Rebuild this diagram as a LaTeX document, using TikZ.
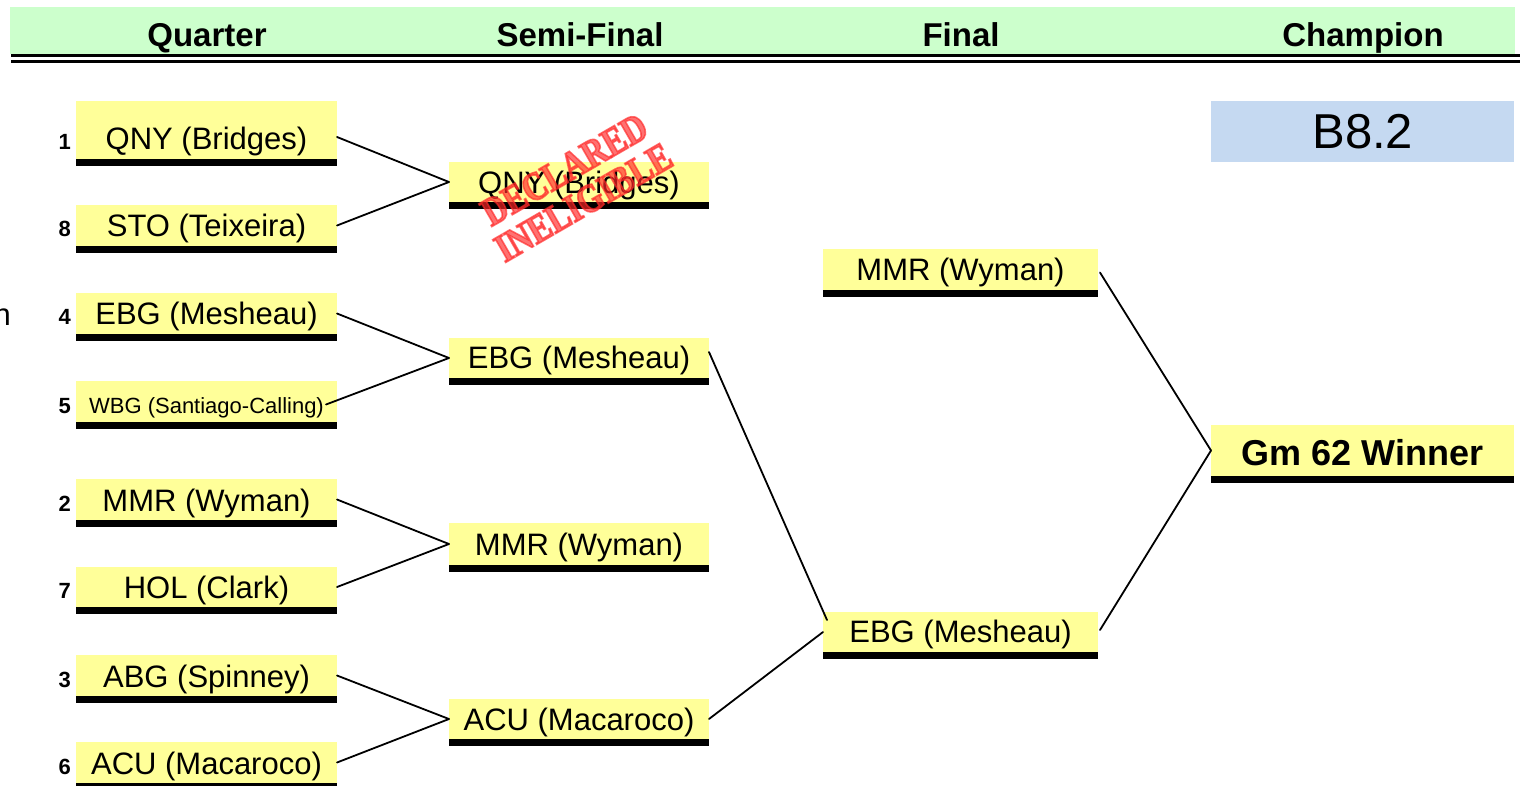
\documentclass[tikz,border=0pt]{standalone}
\usepackage{fontspec}
\setmainfont{Liberation Sans}
\newfontfamily\stampfont{Liberation Serif}[FakeBold=4,FakeStretch=0.82]
\usetikzlibrary{calc}
\definecolor{hdrgreen}{RGB}{204,255,204}
\definecolor{boxyellow}{RGB}{255,255,153}
\definecolor{boxblue}{RGB}{197,217,241}
\definecolor{stampred}{RGB}{255,40,40}
\newcommand\fsz[1]{\fontsize{#1}{#1}\selectfont}
% #1 name, #2 x1, #3 x2, #4 ytop, #5 ybar, #6 baseline, #7 font, #8 text
\newcommand\teambox[8]{%
  \node[ybox, minimum width={(#3-#2)*1pt}, minimum height={(#5-#4)*1pt}, anchor=north west] (#1) at (#2,#4) {};
  \fill[black] (#2,#5) rectangle (#3,#5+6.5);
  \node[tlabel, font=#7, anchor=base] (#1t) at ({(#2+#3)/2},#6) {#8};
}
\newcommand\seedno[3]{%
  \node[seed, anchor=base east] (#1) at (71,#2) {#3};
}
\begin{document}
\begin{tikzpicture}[x=1pt,y=-1pt,
  ybox/.style={fill=boxyellow, draw=none, inner sep=0pt, outer sep=0pt},
  tlabel/.style={inner sep=0pt, text=black},
  seed/.style={inner sep=0pt, font=\bfseries\fsz{22}},
  hdr/.style={inner sep=0pt, font=\bfseries\fsz{33}, anchor=base},
  conn/.style={line width=1.8pt, line cap=round},
  stamp/.style={inner sep=0pt, font=\stampfont\bfseries\fontsize{40}{38}\selectfont,
    text=stampred, text opacity=0.66, rotate=30, align=center}]
\useasboundingbox (0,0) rectangle (1520,785);

% header
\fill[hdrgreen] (10,7) rectangle (1515,54);
\fill[black] (11,54.3) rectangle (1520,57.3);
\fill[black] (11,60.3) rectangle (1520,63.3);
\node[hdr] (hq) at (207,46) {Quarter};
\node[hdr] (hs) at (580,46) {Semi-Final};
\node[hdr] (hf) at (961,46) {Final};
\node[hdr] (hc) at (1363,46) {Champion};

% partial text at left edge
\node[tlabel, font=\fsz{31}, anchor=base east] (cut) at (11,325) {n};

% quarter
\teambox{q1}{76}{337}{101}{159}{149}{\fsz{31}}{QNY (Bridges)}
\teambox{q8}{76}{337}{205}{246}{236}{\fsz{31}}{STO (Teixeira)}
\teambox{q4}{76}{337}{293}{334}{324}{\fsz{31}}{EBG (Mesheau)}
\teambox{q5}{76}{337}{381}{422}{413}{\fsz{22}}{WBG (Santiago-Calling)}
\teambox{q2}{76}{337}{479}{520}{511}{\fsz{31}}{MMR (Wyman)}
\teambox{q7}{76}{337}{567}{607}{598}{\fsz{31}}{HOL (Clark)}
\teambox{q3}{76}{337}{655}{696}{687}{\fsz{31}}{ABG (Spinney)}
\teambox{q6}{76}{337}{742}{783}{774}{\fsz{31}}{ACU (Macaroco)}
\seedno{n1}{149}{1}
\seedno{n8}{236}{8}
\seedno{n4}{324}{4}
\seedno{n5}{413}{5}
\seedno{n2}{511}{2}
\seedno{n7}{598}{7}
\seedno{n3}{687}{3}
\seedno{n6}{774}{6}

% semi
\teambox{s1}{449}{709}{162}{202}{193}{\fsz{31}}{QNY (Bridges)}
\teambox{s2}{449}{709}{338}{378}{368}{\fsz{31}}{EBG (Mesheau)}
\teambox{s3}{449}{709}{523}{565}{555}{\fsz{31}}{MMR (Wyman)}
\teambox{s4}{449}{709}{699}{739}{730}{\fsz{31}}{ACU (Macaroco)}

% final
\teambox{f1}{823}{1098}{249}{290}{280}{\fsz{31}}{MMR (Wyman)}
\teambox{f2}{823}{1098}{612}{652}{642}{\fsz{31}}{EBG (Mesheau)}

% champion
\teambox{ch}{1211}{1514}{425}{476}{465}{\bfseries\fsz{36}}{Gm 62 Winner}
\node[fill=boxblue, inner sep=0pt, minimum width=303pt, minimum height=61pt,
  anchor=north west, font=\fsz{49}] (code) at (1211,101) {B8.2};

% connectors
\draw[conn] ($(q1.south east)+(0,-22)$) -- (s1.west);
\draw[conn] (q8.east) -- (s1.west);
\draw[conn] (q4.east) -- (s2.west);
\draw[conn] ($(q5.east)+(-11,3)$) -- (s2.west);
\draw[conn] (q2.east) -- (s3.west);
\draw[conn] (q7.east) -- (s3.west);
\draw[conn] (q3.east) -- (s4.west);
\draw[conn] (q6.east) -- (s4.west);
\draw[conn] ($(s2.east)+(0,-6)$) -- ($(f2.west)+(4,-12)$);
\draw[conn] (s4.east) -- (f2.west);
\draw[conn] ($(f1.east)+(2,3)$) -- (ch.west);
\draw[conn] ($(f2.east)+(2,-2)$) -- (ch.west);

% stamp
\node[stamp] (stampnode) at (574,186) {DECLARED\\INELIGIBLE};
\end{tikzpicture}
\end{document}
